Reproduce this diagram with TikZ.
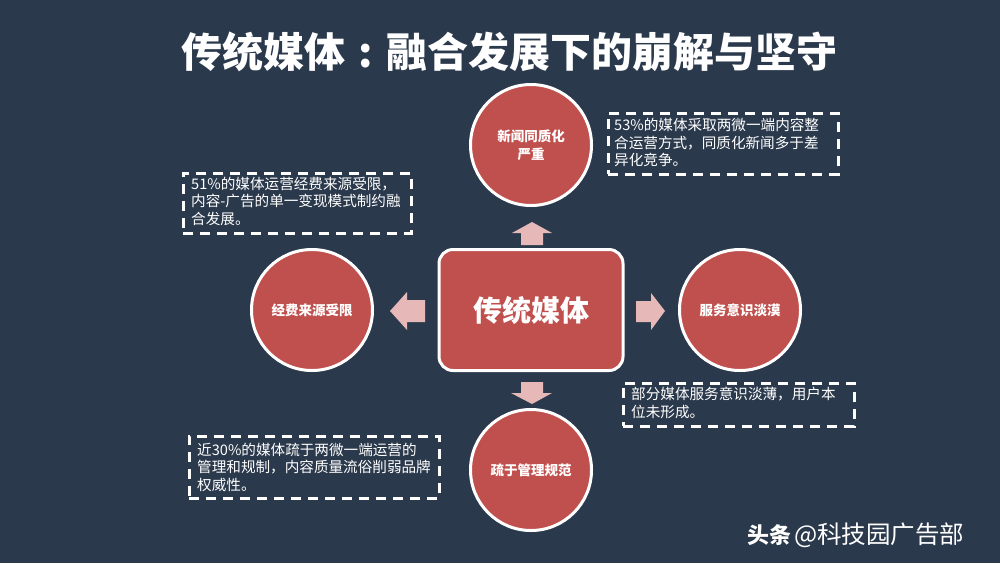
\documentclass[tikz,border=0pt]{standalone}
\usepackage{fontspec}
\setmainfont{Noto Sans CJK SC}
\newfontfamily\cjk{Noto Sans CJK SC}
\definecolor{bgc}{RGB}{43,57,76}
\definecolor{redc}{RGB}{192,80,77}
\definecolor{pinkc}{RGB}{230,185,184}
\begin{document}
\begin{tikzpicture}[x=1pt,y=-1pt,
  circ/.style={circle, fill=redc, draw=white, line width=3pt, minimum size=121pt, inner sep=0pt,
    text=white, font=\cjk\fontsize{13.5}{18}\selectfont\bfseries, align=center},
  dbox/.style={draw=white, line width=2.7pt, dash pattern=on 10pt off 7pt, anchor=north west, inner sep=0pt},
  note/.style={anchor=west, text=white, font=\cjk\fontsize{14.6}{17.5}\selectfont, align=left, inner sep=0pt},
  barrow/.style={fill=pinkc}]
\fill[bgc] (0,0) rectangle (1000,563);
\useasboundingbox (0,0) rectangle (1000,563);

% title
\node[text=white, font=\cjk\fontsize{41}{41}\selectfont\bfseries] (title) at (509,52) {传统媒体\makebox[1em][c]{:}融合发展下的崩解与坚守};

% center
\node[rectangle, rounded corners=14pt, fill=redc, draw=white, line width=3pt,
  minimum width=184pt, minimum height=121pt, text=white,
  font=\cjk\fontsize{29}{29}\selectfont\bfseries] (center) at (531,310) {传统媒体};

% circles
\node[circ] (top) at (531,145) {新闻同质化\\严重};
\node[circ] (left) at (312,310) {经费来源受限};
\node[circ] (right) at (740,310) {服务意识淡漠};
\node[circ] (bottom) at (531,470) {疏于管理规范};

% block arrows
\fill[barrow] (532,222) -- (552,233) -- (543,233) -- (543,245) -- (521,245) -- (521,233) -- (512,233) -- cycle;
\fill[barrow] (390,311) -- (407,292) -- (407,300) -- (425,300) -- (425,322) -- (407,322) -- (407,330) -- cycle;
\fill[barrow] (665,311) -- (651,293) -- (651,301) -- (636,301) -- (636,322) -- (651,322) -- (651,330) -- cycle;
\fill[barrow] (532,404) -- (552,393) -- (543,393) -- (543,382) -- (521,382) -- (521,393) -- (511,393) -- cycle;

% dashed boxes
\node[dbox, minimum width=230pt, minimum height=61pt] (b1) at (607,112) {};
\node[note] (t1) at (614,142.5) {53\%的媒体采取两微一端内容整\\合运营方式，同质化新闻多于差\\异化竞争。};

\node[dbox, minimum width=228pt, minimum height=60pt] (b2) at (182,172) {};
\node[note] (t2) at (191,201) {51\%的媒体运营经费来源受限，\\内容-广告的单一变现模式制约融\\合发展。};

\node[dbox, minimum width=231pt, minimum height=43pt] (b3) at (622,382) {};
\node[note] (t3) at (631,403) {部分媒体服务意识淡薄，用户本\\位未形成。};

\node[dbox, minimum width=250pt, minimum height=62pt] (b4) at (188,435) {};
\node[note] (t4) at (197,467) {近30\%的媒体疏于两微一端运营的\\管理和规制，内容质量流俗削弱品牌\\权威性。};

% watermark
\node[anchor=west, text=white, inner sep=0pt, font=\cjk\fontsize{24.5}{24.5}\selectfont] (wm) at (747,535) {{\fontsize{22}{22}\selectfont\bfseries 头条}\hspace{3pt}@科技园广告部};
\end{tikzpicture}
\end{document}
